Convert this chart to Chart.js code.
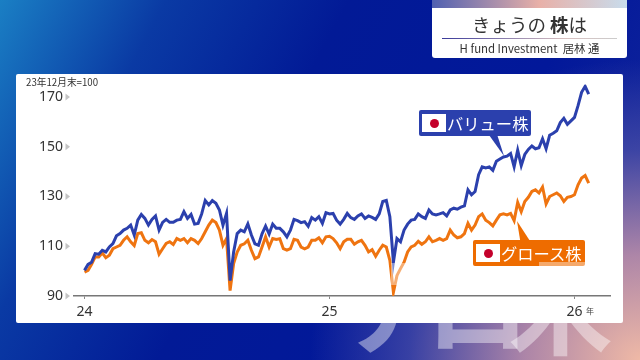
<!DOCTYPE html>
<html>
<head>
<meta charset="utf-8">
<script src="https://cdn.jsdelivr.net/npm/chart.js@4"></script>
<style>
  html, body { margin: 0; padding: 0; }
  body {
    width: 640px; height: 360px; overflow: hidden; position: relative;
    font-family: "Noto Sans CJK JP", "Noto Sans", sans-serif;
    background:
      radial-gradient(ellipse 330px 300px at 100% 100%, #efb9a6 0%, rgba(200,150,170,.85) 35%, rgba(90,90,170,.6) 70%, rgba(10,30,150,0) 100%),
      linear-gradient(118deg, #1a7fc4 0%, #0a3aa4 20%, #021a96 42%, #02189a 70%, #1a2c9c 100%);
  }
  #mark { position: absolute; left: 342px; top: 235px; font-size: 105px; line-height: 130px; color: rgba(255,255,255,.42); font-weight: 700; white-space: nowrap; letter-spacing: -22px; }
  #panel { position: absolute; left: 16px; top: 74px; width: 607px; height: 249px; background: #fff; border-radius: 2px; }
  #chart { position: absolute; left: 0; top: 0; }
  #title { position: absolute; left: 432px; top: 0; width: 195px; height: 58px; background: #fff; border-radius: 0 0 3px 3px; overflow: hidden; text-align: center; color: #333; }
  #strip { height: 8px; background: linear-gradient(90deg, #5060b0, #e8b0a8 55%, #c8dcec); }
  #title .main { font-size: 18.5px; line-height: 20px; margin-top: 6px; }
  #title .rule { height: 1px; margin: 4px 10px 0; background: linear-gradient(90deg, #3a3a9a, #d8c0c0 70%, #ccc); }
  #title .sub { font-size: 11.4px; line-height: 14px; margin-top: 2px; }
  .base { position: absolute; left: 26px; top: 75px; font-size: 9.7px; color: #333; line-height: 14px; }
  .nen { position: absolute; left: 586px; top: 305px; font-size: 8px; color: #444; line-height: 12px; }
  .tag { position: absolute; width: 112px; height: 26px; border-radius: 2px; color: #fff; font-size: 16.3px; line-height: 26px; white-space: nowrap; }
  .tag .flag { position: absolute; left: 3px; top: 4px; width: 24px; height: 18px; background: #fff; }
  .tag .flag i { position: absolute; left: 7.5px; top: 4.5px; width: 9px; height: 9px; border-radius: 50%; background: #c4002b; }
  .tag span { position: absolute; left: 28px; }
  #valueTag { left: 419px; top: 110px; background: #2b40ad; }
  #growthTag { left: 473px; top: 240px; background: #ee6c00; }
  .arrow { position: absolute; }
  #valueArrow { left: 489px; top: 135px; width: 15px; height: 21px; background: #2b40ad; clip-path: polygon(0 0, 55% 0, 100% 100%); }
  #growthArrow { left: 517px; top: 221px; width: 13px; height: 20px; background: #ee6c00; clip-path: polygon(0 0, 100% 100%, 25% 100%); }
  .fade { position: absolute; background: rgba(255,255,255,.42); }
  #fadeLine { left: 391px; top: 263px; width: 16px; height: 22px; }
  #fadeTag { left: 539px; top: 262px; width: 46px; height: 4px; }
</style>
</head>
<body>
<div id="mark">アロ米</div>
<div id="panel"></div>
<canvas id="chart" width="640" height="360"></canvas>
<div class="base">23年12月末=100</div>
<div class="nen">年</div>
<div id="valueArrow" class="arrow"></div>
<div id="valueTag" class="tag"><div class="flag"><i></i></div><span>バリュー株</span></div>
<div id="growthArrow" class="arrow"></div>
<div id="growthTag" class="tag"><div class="flag"><i></i></div><span>グロース株</span></div>
<div id="fadeLine" class="fade"></div>
<div id="fadeTag" class="fade"></div>
<div id="title">
  <div id="strip"></div>
  <div class="main">きょうの <b>株</b>は</div>
  <div class="rule"></div>
  <div class="sub">H fund Investment&nbsp; 居林 通</div>
</div>
<script>
const yearTicks = [0, 69, 138];
const yearLabels = ["24", "25", "26"];
const valueTicks = [90, 110, 130, 150, 170];

const valueStocks = [
  100.3, 102.7, 103.6, 107, 106.8, 108.4, 107.7, 109.7, 111.1, 114.2,
  115.1, 116.5, 117.2, 118.5, 114.5, 120.5, 122.8, 121.2, 118.5, 120.8,
  122.2, 116.5, 119.6, 120.8, 119.6, 119.6, 120.5, 120.8, 123.9, 121.2,
  122.8, 118.9, 119.2, 123, 128.4, 126.6, 128.4, 127.3, 124.6, 118.5,
  123.2, 96.2, 107.7, 115.1, 116.5, 115.8, 119, 114.5, 111, 110.4,
  115, 118.1, 114.9, 118.9, 117.2, 117.2, 115.8, 113.8, 116.5, 120.8,
  120.3, 119.5, 119.9, 118, 121.5, 120.5, 121.9, 119.2, 123.5, 123,
  123.2, 120.5, 118.9, 120.8, 123.2, 121.5, 120.8, 122.2, 123, 121.2,
  122.2, 121.6, 120.8, 123, 128, 128.4, 121.9, 103.6, 113.1, 111.8,
  116.5, 118.9, 120.5, 120.8, 123, 121.9, 121.2, 124.6, 123, 122.6,
  123, 123.5, 122.2, 124.6, 125.3, 124.9, 125.7, 126.2, 132.7, 130.7,
  132, 138.8, 141.9, 141.5, 141.9, 140.5, 144.2, 145.1, 145.9, 146.2,
  147.3, 141.9, 148.6, 142.4, 146.9, 148.9, 150.3, 149.2, 149.6, 153.2,
  149.2, 154.6, 155.4, 156.4, 159.7, 161.4, 159, 160.4, 161.8, 166.5,
  171.9, 174.3, 171.2
];
const growthStocks = [
  99.6, 100.3, 102.7, 105.7, 105.7, 107.3, 105.4, 106.4, 109, 109.7,
  110.4, 112.4, 113.8, 111.8, 110.3, 115.1, 115.4, 112.4, 111.4, 112.7,
  111.8, 106.8, 109, 111.1, 111.8, 110.7, 113.1, 112.4, 113.1, 111.4,
  113.1, 112.4, 111.1, 113.1, 115.8, 118.5, 120.5, 119.5, 116.5, 110.4,
  113.1, 92.2, 103, 107.7, 110.4, 111, 112.4, 108.4, 105, 105.7,
  109.7, 113.8, 109.7, 113.1, 112.7, 113, 109, 108.4, 109, 112.8,
  112.4, 109.7, 109, 109.7, 112.4, 112.4, 113.4, 111.4, 113.8, 114,
  113.1, 111.4, 109, 111.8, 112.8, 112.8, 110.8, 111.8, 112.4, 110.4,
  107.7, 108.6, 106, 108.4, 110.4, 109.7, 104.3, 91.5, 98.2, 101,
  103.6, 107.7, 109.7, 110.4, 112, 110.8, 111.8, 113.8, 111.8, 112.4,
  113.1, 112.4, 113.1, 116.5, 114.5, 113.4, 113.8, 115.1, 119.2, 116.5,
  118.5, 121.9, 123, 120.5, 119.5, 118.2, 120.5, 122.6, 123, 122.6,
  123.2, 120.3, 127.6, 123.9, 128, 129.7, 132, 132.7, 131.4, 133.8,
  127, 130, 130.7, 131.4, 130.3, 128, 129.7, 130, 130.7, 134.7,
  137.4, 138.4, 135.4
];

// grey arrow heads next to the value labels
const tickArrows = {
  id: "tickArrows",
  afterDraw(chart) {
    const ctx = chart.ctx;
    const yScale = chart.scales.y;
    ctx.save();
    ctx.fillStyle = "#c4c4c4";
    valueTicks.forEach((v) => {
      const y = yScale.getPixelForValue(v);
      ctx.beginPath();
      ctx.moveTo(65.5, y - 3.5);
      ctx.lineTo(70, y);
      ctx.lineTo(65.5, y + 3.5);
      ctx.fill();
    });
    ctx.restore();
  },
};

function toPoints(values) {
  return values.map((v, i) => ({ x: i, y: v }));
}

new Chart(document.getElementById("chart"), {
  type: "line",
  data: {
    datasets: [
      { label: "バリュー株", data: toPoints(valueStocks), borderColor: "#2b40ad", borderWidth: 3, pointRadius: 0, tension: 0, order: 2 },
      { label: "グロース株", data: toPoints(growthStocks), borderColor: "#ef7410", borderWidth: 3, pointRadius: 0, tension: 0, order: 3 },
    ],
  },
  options: {
    responsive: false,
    animation: false,
    layout: { padding: { top: 84.56, right: 30, left: 0, bottom: 0 } },
    plugins: { legend: { display: false }, tooltip: { enabled: false } },
    scales: {
      x: {
        type: "linear",
        min: -2.96,
        max: 148,
        afterFit: (scale) => { scale.height = 64; },
        afterBuildTicks: (scale) => { scale.ticks = yearTicks.map((v) => ({ value: v })); },
        grid: { drawOnChartArea: false, tickLength: 3, color: "#888" },
        border: { color: "#777", width: 1.5 },
        ticks: {
          autoSkip: false, maxRotation: 0, padding: 5, color: "#333",
          font: { family: "Noto Sans", size: 14 },
          callback: (v) => yearLabels[yearTicks.indexOf(v)],
        },
      },
      y: {
        min: 90,
        max: 175,
        afterFit: (scale) => { scale.width = 74; },
        afterBuildTicks: (scale) => { scale.ticks = valueTicks.map((v) => ({ value: v })); },
        grid: { display: false },
        border: { display: false },
        ticks: { padding: 3, color: "#333", font: { family: "Noto Sans", size: 14 } },
      },
    },
  },
  plugins: [tickArrows],
});
</script>
</body>
</html>
